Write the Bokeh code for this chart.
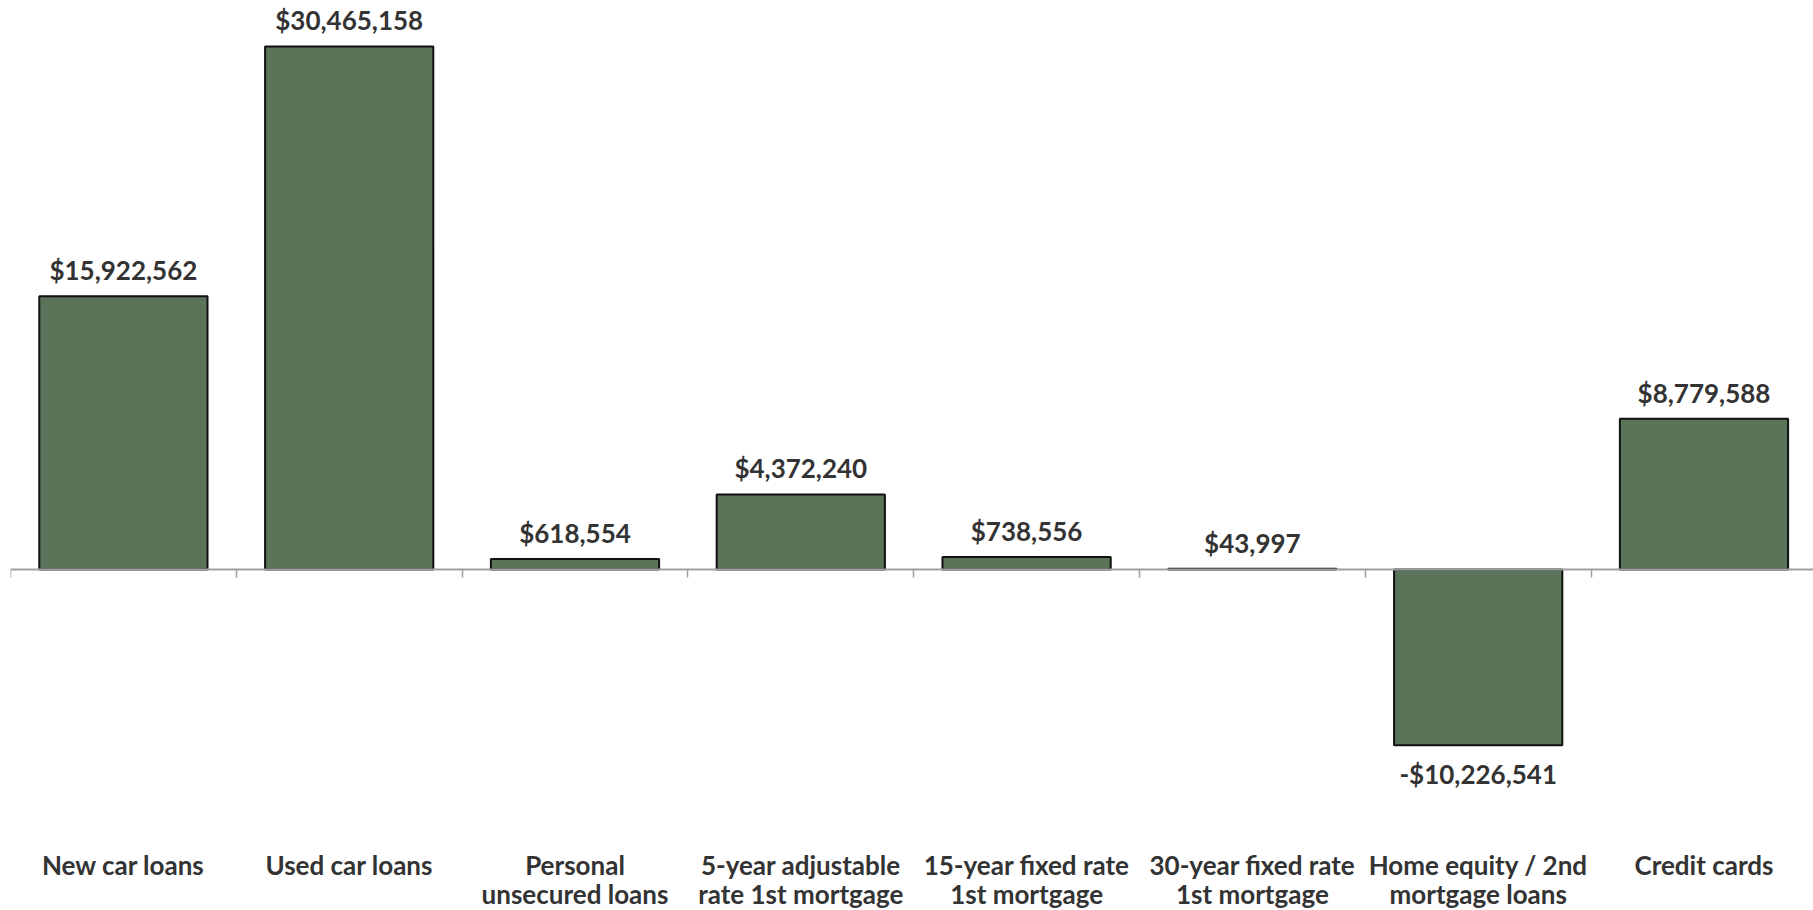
from bokeh.plotting import figure
from bokeh.models import ColumnDataSource, Range1d, LinearAxis, FixedTicker
from bokeh.embed import file_html
from bokeh.resources import INLINE
from bokeh.core.properties import value

categories = [
    "New car loans",
    "Used car loans",
    "Personal\nunsecured loans",
    "5-year adjustable\nrate 1st mortgage",
    "15-year fixed rate\n1st mortgage",
    "30-year fixed rate\n1st mortgage",
    "Home equity / 2nd\nmortgage loans",
    "Credit cards",
]
values = [15922562, 30465158, 618554, 4372240, 738556, 43997, -10226541, 8779588]

n = len(categories)
centers = [i + 0.5 for i in range(n)]
labels = [("-$" if v < 0 else "$") + f"{abs(v):,}" for v in values]
offsets = [29 if v < 0 else -26 for v in values]

src = ColumnDataSource(dict(x=centers, top=values, label=labels, yoff=offsets))

p = figure(
    frame_width=1803, frame_height=845,
    x_range=Range1d(0, 7.985), y_range=Range1d(-16.07e6, 33.14e6),
    x_axis_type=None, y_axis_type=None,
    min_border_left=10, min_border_right=0, min_border_top=0, min_border_bottom=65,
    output_backend="svg", toolbar_location=None,
)
p.grid.visible = False
p.outline_line_color = None
p.background_fill_color = "white"
p.border_fill_color = "white"

p.vbar(x="x", top="top", bottom=0, width=0.745, source=src,
       fill_color="#5a7359", line_color="#111111", line_width=2)

# zero axis with boundary ticks
ticks = list(range(n + 1))
zero_axis = LinearAxis(
    ticker=FixedTicker(ticks=ticks),
    fixed_location=0,
    axis_line_color="#a0a0a0", axis_line_width=2,
    major_tick_line_color="#a0a0a0", major_tick_line_width=1.5,
    major_tick_in=8, major_tick_out=0,
    minor_tick_line_color=None,
    major_label_overrides={t: "" for t in ticks},
    major_label_standoff=0,
)
p.add_layout(zero_axis, "above")

# category labels
cat_axis = LinearAxis(
    ticker=FixedTicker(ticks=centers),
    major_label_overrides={c: t for c, t in zip(centers, categories)},
    axis_line_color=None, major_tick_line_color=None, minor_tick_line_color=None,
    major_tick_out=0, major_tick_in=0,
    major_label_standoff=3,
    major_label_text_font="Lato",
    major_label_text_font_style="bold",
    major_label_text_font_size="26px",
    major_label_text_line_height=0.93,
    major_label_text_color="#333333",
)
p.add_layout(cat_axis, "below")

p.text(x="x", y="top", text="label", y_offset="yoff", source=src,
       text_align="center", text_baseline="middle",
       text_font=value("Lato"), text_font_style="bold",
       text_font_size="26px", text_color="#333333")

open("out.html", "w").write(file_html(p, INLINE))
